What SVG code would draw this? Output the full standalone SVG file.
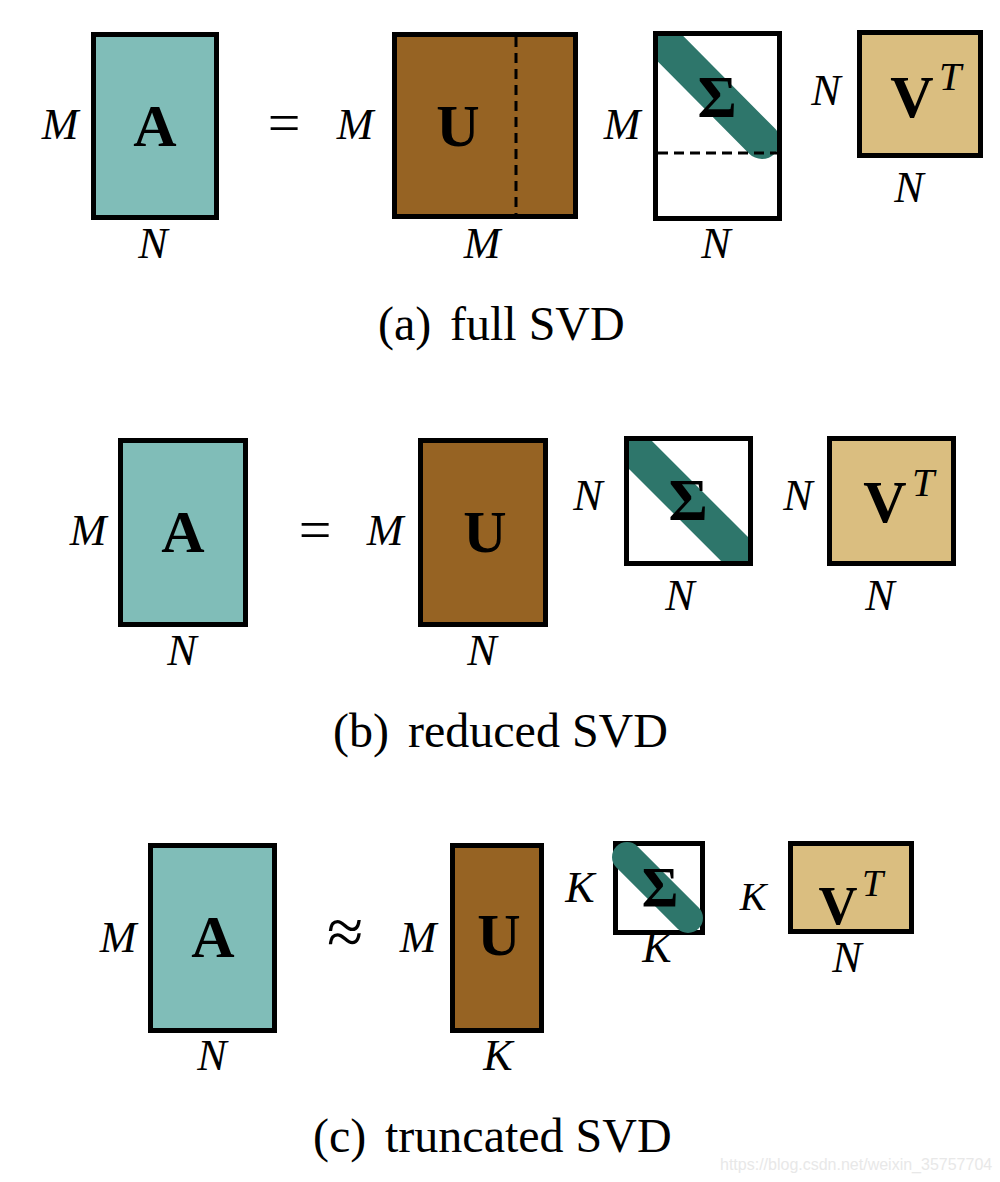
<svg xmlns="http://www.w3.org/2000/svg" width="1000" height="1182" viewBox="0 0 1000 1182">
<style>
.box{stroke:#000;stroke-width:5}
.a{fill:#80bdb8}
.u{fill:#966323}
.v{fill:#dabe80}
.s{fill:#fff}
.band{stroke:#2e766b;stroke-width:36;fill:none}
.dash{stroke:#000;stroke-width:3;stroke-dasharray:10 6;fill:none}
.lbl{font-family:"Liberation Serif",serif;font-style:italic;font-size:44px;fill:#000;text-anchor:middle}
.big{font-family:"Liberation Serif",serif;font-weight:bold;font-size:60px;fill:#000;text-anchor:middle}
.sup{font-family:"Liberation Serif",serif;font-style:italic;font-size:40px;fill:#000}
.op{font-family:"Liberation Serif",serif;font-size:58px;fill:#000;text-anchor:middle}
.cap{font-family:"Liberation Serif",serif;font-size:48px;fill:#000}
.wm{font-family:"Liberation Sans",sans-serif;font-size:16px;fill:#e8e8e8}
</style>
<defs>
<clipPath id="clipA"><rect x="658" y="36" width="119" height="180"/></clipPath>
<clipPath id="clipB"><rect x="629" y="441" width="119" height="120"/></clipPath>
</defs>

<!-- (a) full SVD -->
<g id="a-A">
<rect class="box a" x="93.5" y="34.5" width="123" height="183"/>
<text class="big" x="155" y="146">A</text>
<text class="lbl" x="60" y="139">M</text>
<text class="lbl" x="153" y="258">N</text>
</g>
<g id="a-eq"><text class="op" x="284" y="142">=</text></g>
<g id="a-U">
<rect class="box u" x="394.5" y="34.5" width="181" height="182"/>
<line class="dash" x1="516" y1="37" x2="516" y2="214"/>
<text class="big" x="458" y="146">U</text>
<text class="lbl" x="355" y="139">M</text>
<text class="lbl" x="482" y="258">M</text>
</g>
<g id="a-S">
<rect class="s" x="655.5" y="33.5" width="124" height="185"/>
<line class="band" x1="648" y1="26" x2="762" y2="141" stroke-linecap="round" clip-path="url(#clipA)"/>
<line class="dash" x1="658" y1="153" x2="777" y2="153"/>
<text class="big" x="717" y="117">Σ</text>
<rect class="box" fill="none" x="655.5" y="33.5" width="124" height="185"/>
<text class="lbl" x="622" y="139">M</text>
<text class="lbl" x="716" y="258">N</text>
</g>
<g id="a-V">
<rect class="box v" x="859.5" y="32.5" width="121" height="123"/>
<text class="big" x="912" y="117">V</text>
<text class="sup" x="939" y="90">T</text>
<text class="lbl" x="826" y="105">N</text>
<text class="lbl" x="909" y="202">N</text>
</g>
<g id="cap-a"><text class="cap" x="378" y="340">(a)</text><text class="cap" x="450" y="340">full SVD</text></g>

<!-- (b) reduced SVD -->
<g id="b-A">
<rect class="box a" x="120.5" y="440.5" width="125" height="184"/>
<text class="big" x="183" y="552">A</text>
<text class="lbl" x="88" y="545">M</text>
<text class="lbl" x="182" y="665">N</text>
</g>
<g id="b-eq"><text class="op" x="315" y="549">=</text></g>
<g id="b-U">
<rect class="box u" x="420.5" y="440.5" width="125" height="184"/>
<text class="big" x="485" y="552">U</text>
<text class="lbl" x="385" y="545">M</text>
<text class="lbl" x="482" y="665">N</text>
</g>
<g id="b-S">
<rect class="s" x="626.5" y="438.5" width="124" height="125"/>
<line class="band" x1="618" y1="432.5" x2="758" y2="572.5" clip-path="url(#clipB)"/>
<text class="big" x="688" y="520">Σ</text>
<rect class="box" fill="none" x="626.5" y="438.5" width="124" height="125"/>
<text class="lbl" x="588" y="510">N</text>
<text class="lbl" x="680" y="610">N</text>
</g>
<g id="b-V">
<rect class="box v" x="829.5" y="438.5" width="124" height="125"/>
<text class="big" x="885" y="522">V</text>
<text class="sup" x="912" y="496">T</text>
<text class="lbl" x="798" y="510">N</text>
<text class="lbl" x="880" y="610">N</text>
</g>
<g id="cap-b"><text class="cap" x="333" y="747">(b)</text><text class="cap" x="408" y="747">reduced SVD</text></g>

<!-- (c) truncated SVD -->
<g id="c-A">
<rect class="box a" x="150.5" y="845.5" width="124" height="185"/>
<text class="big" x="213" y="957">A</text>
<text class="lbl" x="118" y="952">M</text>
<text class="lbl" x="212" y="1070">N</text>
</g>
<g id="c-approx"><text class="op" style="font-size:66px" x="345" y="954">≈</text></g>
<g id="c-U">
<rect class="box u" x="452.5" y="845.5" width="89" height="185"/>
<text class="big" x="499" y="955">U</text>
<text class="lbl" x="418" y="952">M</text>
<text class="lbl" x="498" y="1070">K</text>
</g>
<g id="c-S">
<rect class="s" x="615.5" y="843.5" width="87" height="89"/>
<rect class="box" fill="none" x="615.5" y="843.5" width="87" height="89"/>
<line class="band" style="stroke-width:30" x1="627" y1="857" x2="688" y2="918" stroke-linecap="round"/>
<text class="big" style="font-size:56px" x="660" y="907">Σ</text>
<text class="lbl" x="580" y="902">K</text>
<text class="lbl" x="657" y="962">K</text>
</g>
<g id="c-V">
<rect class="box v" x="790.5" y="843.5" width="121" height="88"/>
<text class="big" style="font-size:54px" x="838" y="924">V</text>
<text class="sup" style="font-size:38px" x="862" y="896">T</text>
<text class="lbl" style="font-size:40px" x="753" y="910">K</text>
<text class="lbl" x="847" y="972">N</text>
</g>
<g id="cap-c"><text class="cap" x="313" y="1152">(c)</text><text class="cap" x="385" y="1152">truncated SVD</text></g>

<g id="connectors"/>
<text class="wm" x="720" y="1170">https://blog.csdn.net/weixin_35757704</text>
</svg>
